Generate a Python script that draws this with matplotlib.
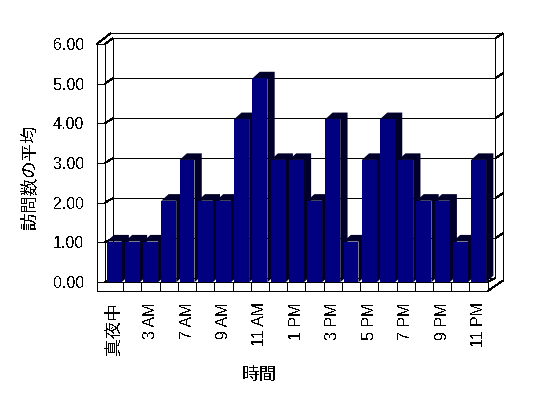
import matplotlib
matplotlib.use("Agg")
import matplotlib.pyplot as plt
from matplotlib.patches import Polygon

plt.rcParams["font.family"] = ["Liberation Sans", "Noto Sans CJK JP"]
plt.rcParams["text.antialiased"] = False

# hours that have visits; only every other one gets a label, as in the original
hour_labels = ["真夜中", "", "3 AM", "", "7 AM", "", "9 AM", "", "11 AM", "", "1 PM",
               "", "3 PM", "", "5 PM", "", "7 PM", "", "9 PM", "", "11 PM"]
avg_visits = [1, 1, 1, 2, 3, 2, 2, 4, 5, 3, 3, 2, 4, 1, 3, 4, 3, 2, 2, 1, 3]
y_ticks = [0, 1, 2, 3, 4, 5, 6]

W, H = 548, 398
NAVY = "#000080"
DARK = "#00002a"
LW = 0.72

# pixel box of the front plane (ticks live here)
X0, X1 = 105.0, 487.7
Y0, Y6 = 282.0, 44.0
# the bars rise on a slightly taller scale than the front ticks
BAR_Y0, BAR_Y6 = 282.3, 37.6


def make_axes(y_bottom, y_top):
    a = fig.add_axes([X0 / W, 1 - y_bottom / H, (X1 - X0) / W, (y_bottom - y_top) / H])
    a.set_xlim(-0.5, len(avg_visits) - 0.5)
    a.set_ylim(0, 6)
    for s in a.spines.values():
        s.set_visible(False)
    a.patch.set_visible(False)
    return a


fig = plt.figure(figsize=(W / 100, H / 100), dpi=100, facecolor="white")
ax = make_axes(Y0, Y6)
bar_ax = make_axes(BAR_Y0, BAR_Y6)
bar_ax.set_xticks([])
bar_ax.set_yticks([])

# pixel sizes expressed in data units
px_x = len(avg_visits) / (X1 - X0)
px_y = 6 / (Y0 - Y6)


def line(xs, ys):
    # xs, ys are pixel offsets from the front plane origin
    # one artist per segment so that straight pieces snap to whole pixels
    for k in range(len(xs) - 1):
        ax.plot([-0.5 + xs[k] * px_x, -0.5 + xs[k + 1] * px_x],
                [ys[k] * px_y, ys[k + 1] * px_y], color="black",
                lw=LW, clip_on=False, antialiased=False, solid_capstyle="butt")


wall_dx = 7.7    # back wall sits this far right of the front plane
wall_dy = 3.7    # and this far up
right_w = 495.3 - X0
outer_r = 502.7 - X0
left_o = 96.7 - X0
front_r = X1 - X0
top_h = Y0 - Y6

# outer box
line([left_o, left_o, front_r], [top_h, -9, -9])
line([0, 0], [0, top_h])
line([0, front_r], [0, 0])
line([left_o, 110.7 - X0, outer_r, outer_r], [top_h, Y0 - 33.3, Y0 - 33.3, 1.3])
line([front_r, outer_r], [-9, 1.3])
line([front_r, front_r], [-9, 0])
line([front_r, right_w], [0, wall_dy])
line([wall_dx, wall_dx], [wall_dy, top_h + wall_dy + 2])
line([right_w, right_w], [wall_dy, top_h + wall_dy + 2])

# gridlines around the walls, with the short ticks on the left
for t in y_ticks:
    y = t / px_y
    back = y + wall_dy + t * 2 / 6
    if t == 0:
        # the bottom gridline has no slanted tick on the right wall
        line([left_o, 0, wall_dx, right_w], [y, y, back, back])
    else:
        line([left_o, 0, wall_dx, right_w, outer_r], [y, y, back, back, back + 5])

# floor dividers
for i in range(1, len(avg_visits)):
    line([i / px_x, i / px_x], [-9, 0])

# bars: front face plus dark top and side
bar_w = 0.82
depth_x = 7.3 * px_x
depth_y = 6.6 * 6 / (BAR_Y0 - BAR_Y6)
for i, v in enumerate(avg_visits):
    left = i - bar_w / 2
    right = i + bar_w / 2
    bar_ax.add_patch(Polygon([(right, 0), (right + depth_x, depth_y), (right + depth_x, v + depth_y),
                              (left + depth_x, v + depth_y), (left, v), (right, v)],
                             facecolor=DARK, edgecolor="none", clip_on=False, zorder=2 + i * 0.01))
    bar_ax.bar(i, v, width=bar_w, color=NAVY, linewidth=0, zorder=2.005 + i * 0.01)

ax.set_yticks(y_ticks)
ax.set_yticklabels([f"{t:.2f}" for t in y_ticks], fontsize=11.5)
ax.set_xticks(range(len(hour_labels)))
ax.set_xticklabels(hour_labels, rotation=90, fontsize=11.5)
ax.get_xticklabels()[0].set_fontsize(12.7)
ax.tick_params(axis="y", length=0, pad=15)
ax.tick_params(axis="x", length=0, pad=14.5)

fig.text(29.5 / W, 1 - 177 / H, "訪問数の平均", rotation=90, fontsize=12.5, ha="center", va="center")
fig.text(259 / W, 1 - 375.5 / H, "時間", fontsize=12.7, ha="center", va="center")

fig.savefig("out.png", dpi=100)
